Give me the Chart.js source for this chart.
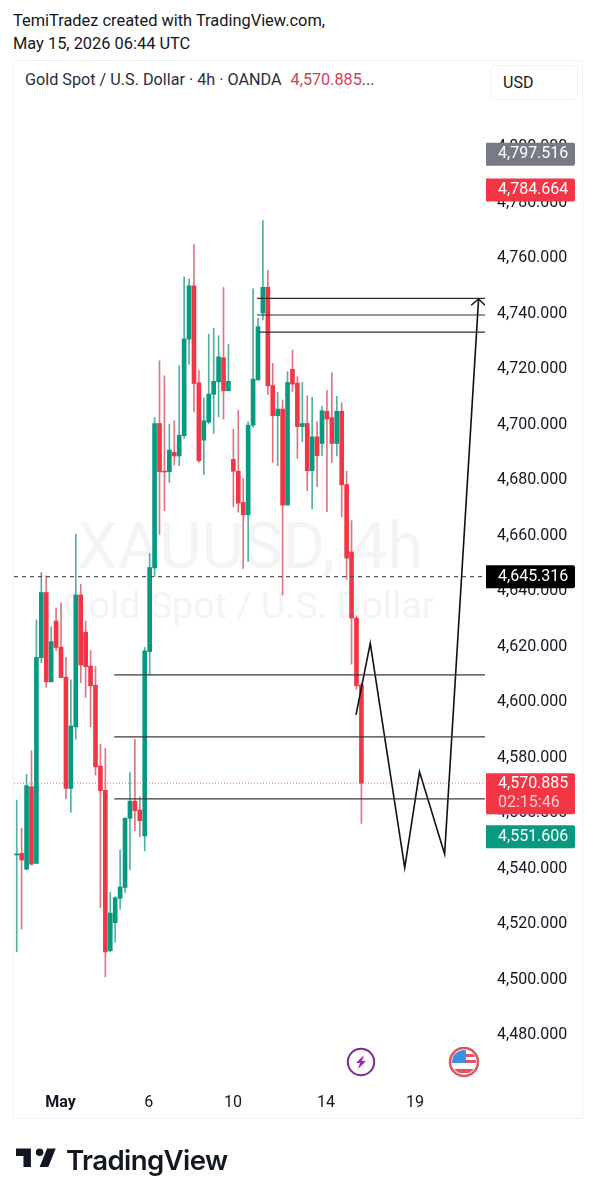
<!DOCTYPE html>
<html>
<head>
<meta charset="utf-8">
<title>XAUUSD 4h</title>
<script src="https://cdn.jsdelivr.net/npm/chart.js@4"></script>
<style>
  html, body { margin: 0; padding: 0; background: #fff; }
  body { width: 596px; height: 1200px; position: relative; overflow: hidden; font-family: Roboto, sans-serif; color: #131722; }
  .abs { position: absolute; white-space: nowrap; }
  #box { left: 13px; top: 60px; width: 568px; height: 1057px; border: 1px solid #f0f3fa; }
  #usd { left: 490px; top: 65px; width: 86px; height: 33px; border: 1px solid #f0f3fa; border-radius: 6px; line-height: 34px; text-indent: 12px; font-size: 16px; }
  .wm { color: #f4f4f6; }
  canvas { position: absolute; left: 0; top: 0; }
</style>
</head>
<body>
<div class="abs" style="left:13px;top:9px;font-size:16.4px;line-height:23px">TemiTradez created with TradingView.com,<br>May 15, 2026 06:44 UTC</div>
<div class="abs" id="box"></div>
<div class="abs" style="left:25px;top:70px;font-size:16.2px;line-height:20px;color:#2a2e39">Gold Spot / U.S. Dollar · 4h · OANDA<span style="color:#cf3f5e;margin-left:9px">4,570.885</span>...</div>
<div class="abs" id="usd">USD</div>
<div class="abs wm" style="left:77px;top:508px;font-size:65px;line-height:76px">XAUUSD, 4h</div>
<div class="abs wm" style="left:63px;top:583px;font-size:37.6px;line-height:44px">Gold Spot / U.S. Dollar</div>

<canvas id="chart" width="596" height="1200"></canvas>

<svg class="abs" style="left:346px;top:1047px" width="30" height="30" viewBox="0 0 30 30">
  <circle cx="15" cy="15" r="13.2" fill="#fff" stroke="#7b2a9c" stroke-width="2"/>
  <path d="M18 8l-8 8h4l-2 6 8-8h-4z" fill="#9c27b0"/>
</svg>
<svg class="abs" style="left:448px;top:1046px" width="32" height="32" viewBox="0 0 32 32">
  <defs><clipPath id="c"><circle cx="16" cy="16" r="12"/></clipPath></defs>
  <g clip-path="url(#c)">
    <rect width="32" height="32" fill="#fff"/>
    <rect y="8" width="32" height="3" fill="#e25563"/>
    <rect y="14" width="32" height="3" fill="#e25563"/>
    <rect y="23" width="32" height="4" fill="#e25563"/>
    <rect x="4" y="4" width="14" height="13" fill="#3f8fe0"/>
  </g>
  <circle cx="16" cy="16" r="14" fill="none" stroke="#e2545f" stroke-width="2.5"/>
</svg>

<svg class="abs" style="left:16px;top:1147px" width="41" height="24" viewBox="2 5 33 19">
  <path d="M14 6H2v6h6v9h6V6zm14 15h-7l6-15h7l-6 15zm-7-9a3 3 0 1 0 0-6 3 3 0 0 0 0 6z" fill="#131722"/>
</svg>
<div class="abs" style="left:66px;top:1141px;font-family:Inter,sans-serif;font-weight:600;font-size:27.6px;line-height:38px;letter-spacing:-0.6px;color:#131722">TradingView</div>

<script>
const opens = [4545.0,4545.6,4539.9,4569.6,4542.0,4616.1,4639.6,4607.4,4629.3,4619.9,
  4609.1,4569.0,4591.2,4638.7,4625.3,4613.1,4606.2,4577.1,4568.3,4510.5,
  4520.6,4529.4,4533.3,4558.2,4564.4,4561.2,4551.9,4618.3,4648.5,4700.5,
  4683.2,4683.1,4690.1,4688.8,4696.1,4730.9,4750.1,4715.2,4694.5,4701.0,
  4711.0,4715.5,4724.2,4712.3,4687.6,4683.3,4672.1,4667.6,4699.9,4716.2,
  4740.3,4749.6,4714.2,4703.3,4705.7,4671.1,4720.0,4715.1,4699.4,4700.5,
  4683.5,4695.7,4693.3,4704.9,4702.6,4693.3,4704.9,4678.5,4654.2,4630.4,4606.3];
const highs = [4564.8,4554.6,4574.1,4582.6,4629.7,4646.8,4645.6,4627.3,4634.1,4635.9,
  4616.2,4608.1,4660.7,4642.5,4629.3,4618.7,4613.1,4584.9,4583.4,4531.5,
  4530.0,4546.8,4558.3,4574.7,4586.7,4566.0,4619.8,4653.7,4702.7,4723.1,
  4717.7,4700.3,4701.5,4721.3,4753.4,4752.5,4765.0,4719.6,4709.7,4732.7,
  4734.8,4732.1,4749.5,4729.1,4698.5,4705.3,4680.7,4701.1,4749.0,4738.4,
  4773.6,4755.8,4722.2,4711.7,4709.0,4719.2,4727.0,4717.4,4715.3,4710.5,
  4709.9,4701.1,4706.8,4712.4,4718.8,4710.3,4708.0,4683.3,4665.5,4631.2,4606.9];
const lows = [4510.2,4518.3,4539.6,4541.4,4542.0,4614.3,4605.4,4607.4,4618.6,4608.9,
  4565.3,4560.4,4586.7,4607.1,4601.8,4591.2,4573.8,4526.0,4501.1,4510.1,
  4513.6,4525.5,4531.4,4539.8,4553.8,4551.6,4546.5,4609.8,4645.3,4660.5,
  4669.1,4679.3,4685.5,4685.3,4695.1,4721.8,4704.7,4686.5,4682.1,4700.5,
  4696.9,4702.9,4702.1,4712.3,4670.5,4668.5,4648.3,4650.8,4699.1,4716.1,
  4737.8,4711.0,4686.5,4685.3,4638.7,4671.1,4712.0,4687.9,4693.9,4676.3,
  4669.7,4677.7,4688.9,4668.7,4686.5,4688.8,4666.9,4644.3,4613.8,4604.7,4556.4];
const closes = [4545.4,4543.2,4570.0,4541.7,4616.2,4639.6,4607.4,4621.9,4619.8,4608.9,
  4569.0,4591.5,4638.7,4613.5,4612.9,4606.0,4576.8,4568.2,4510.1,4524.1,
  4529.6,4533.5,4558.3,4564.4,4561.0,4557.4,4618.6,4648.6,4700.5,4683.1,
  4683.0,4690.9,4688.8,4696.3,4731.0,4750.1,4714.9,4687.1,4701.5,4711.1,
  4715.7,4724.5,4712.3,4715.7,4683.3,4671.8,4667.6,4699.9,4716.5,4735.4,
  4749.6,4714.1,4703.3,4705.7,4671.1,4715.3,4714.7,4699.4,4700.5,4683.5,
  4695.7,4688.9,4705.1,4702.1,4693.3,4704.9,4678.4,4652.0,4630.4,4606.0,4570.885];

const priceTicks = [4480,4500,4520,4540,4560,4580,4600,4620,4640,4660,4680,4700,4720,4740,4760,4780,4800];
const timeTicks = [8.9,26.8,43.9,62.8,80.9];
const timeLabels = ["May","6","10","14","19"];

// drawn levels: [start bar, price]
const lowerLevels = [4609.9,4587.6,4565.2];
const lowerStart = 19.8;
const upperLevels = [4745.6,4739.6,4733.4];
const upperStarts = [48.8,48.8,49.2];
const levelEnd = 95.1;
const zigzagBars = [68.9,71.8,78.8,81.8,86.9,93.8];
const zigzagPrices = [4595.5,4621.3,4540.4,4575.0,4545.4,4745.4];
const arrowBars = [92.3,93.8,95.1];
const arrowPrices = [4743.1,4745.4,4743.1];
const prevClose = 4645.316;
const lastPrice = 4570.885;
const tagPrices = [4797.516,4784.664,4645.316,4570.885,4551.606];
const tagColors = ["#787b86","#f23645","#000000","#f23645","#089981"];
const countdown = "02:15:46";

const UP = "#089981", DOWN = "#f23645";
const UP_WICK = "#54b09f", DOWN_WICK = "#dc7683";
const isUp = closes.map((c, i) => c >= opens[i]);
const fmt = v => v.toLocaleString("en-US", { minimumFractionDigits: 3, maximumFractionDigits: 3 });

function flatLine(price, from, color, width, dash) {
  return {
    type: "line", order: 0, data: [{ x: from, y: price }, { x: levelEnd, y: price }],
    borderColor: color, borderWidth: width, borderDash: dash || [], pointRadius: 0
  };
}

const priceTags = {
  id: "priceTags",
  afterDraw(chart) {
    const c = chart.ctx, y = chart.scales.y;
    c.save();
    tagPrices.forEach((p, i) => {
      const mid = y.getPixelForValue(p);
      const last = p === lastPrice;
      const top = last ? mid - 10 : mid - 11.5;
      c.fillStyle = tagColors[i];
      c.beginPath();
      c.roundRect(486, top, 89, last ? 41 : 23, [0, 2, 2, 0]);
      c.fill();
      c.fillStyle = "#fff";
      c.font = "16px Roboto";
      c.textBaseline = "middle";
      c.fillText(fmt(p), 498, last ? top + 11 : mid);
      if (last) {
        c.fillStyle = "rgba(255,255,255,0.75)";
        c.fillText(countdown, 498, top + 30);
      }
    });
    c.restore();
  }
};

new Chart(document.getElementById("chart").getContext("2d"), {
  type: "bar",
  data: {
    datasets: [
      flatLine(prevClose, -0.55, "#555", 1.2, [4, 4]),
      flatLine(lastPrice, -0.55, "rgba(242,54,69,0.7)", 1, [1, 2]),
      ...lowerLevels.map(p => flatLine(p, lowerStart, "#3a3a3a", 1.2)),
      ...upperLevels.map((p, i) => flatLine(p, upperStarts[i], "#2e2e2e", 1.2)),
      {
        type: "line", order: 0, data: zigzagBars.map((x, i) => ({ x, y: zigzagPrices[i] })),
        borderColor: "#111", borderWidth: 1.6, pointRadius: 0, tension: 0
      },
      {
        type: "line", order: 0, data: arrowBars.map((x, i) => ({ x, y: arrowPrices[i] })),
        borderColor: "#111", borderWidth: 1.4, pointRadius: 0, tension: 0
      },
      {
        order: 1, grouped: false, barThickness: 4, minBarLength: 1, borderWidth: 0,
        data: opens.map((o, i) => ({ x: i, y: [o, closes[i]] })),
        backgroundColor: isUp.map(u => u ? UP : DOWN)
      },
      {
        order: 2, grouped: false, barThickness: 1, borderWidth: 0,
        data: lows.map((l, i) => ({ x: i, y: [l, highs[i]] })),
        backgroundColor: isUp.map(u => u ? UP_WICK : DOWN_WICK)
      }
    ]
  },
  options: {
    responsive: false,
    animation: false,
    events: [],
    layout: { padding: { left: 14, top: 62, right: 14, bottom: 82 } },
    plugins: { legend: { display: false }, tooltip: { enabled: false } },
    scales: {
      x: {
        type: "linear", offset: false, min: -0.55, max: 95.1,
        grid: { display: false }, border: { display: false },
        afterBuildTicks: s => { s.ticks = timeTicks.map(value => ({ value })); },
        afterFit: s => { s.height = 38; },
        ticks: {
          autoSkip: false, maxRotation: 0, padding: 5, color: "#131722",
          font: ctx => ({ family: "Roboto", size: 16, weight: ctx.index === 0 ? "bold" : "normal" }),
          callback: (v, i) => timeLabels[i]
        }
      },
      y: {
        type: "linear", position: "right", min: 4463.93, max: 4830.77,
        grid: { display: false }, border: { display: false },
        afterBuildTicks: s => { s.ticks = priceTicks.map(value => ({ value })); },
        afterFit: s => { s.width = 97; },
        ticks: {
          autoSkip: false, padding: 4, color: "#131722",
          font: { family: "Roboto", size: 16 },
          callback: v => fmt(v)
        }
      }
    }
  },
  plugins: [priceTags]
});
</script>
</body>
</html>
